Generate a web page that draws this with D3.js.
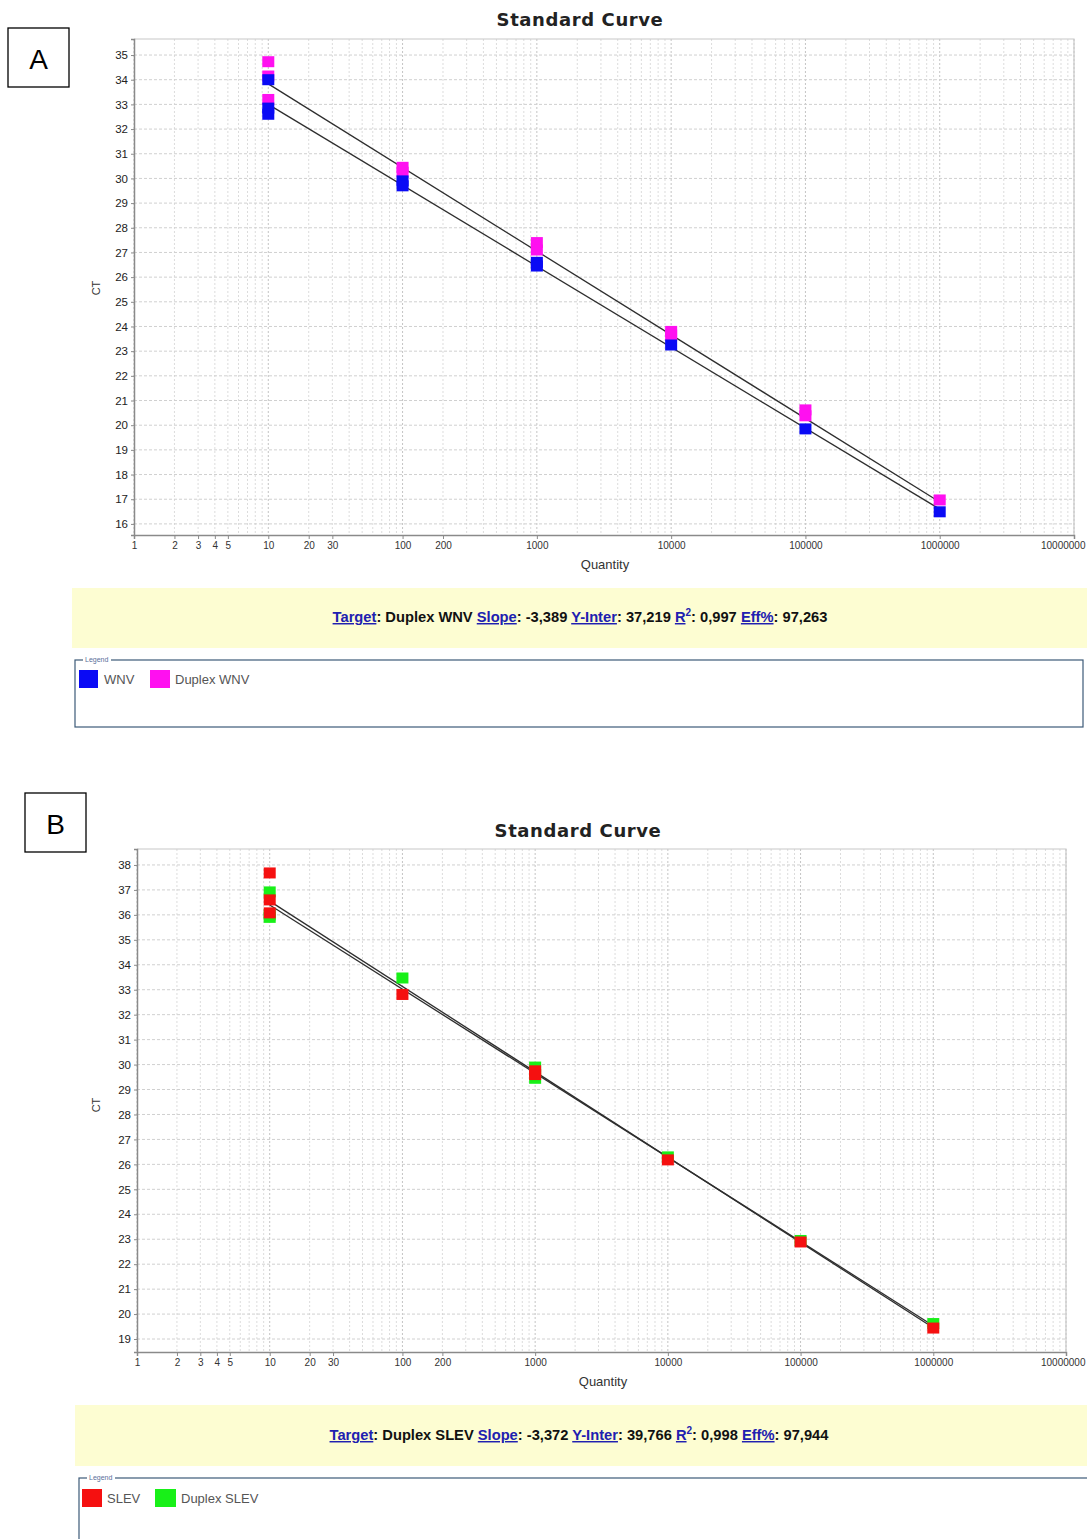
<!DOCTYPE html>
<html>
<head>
<meta charset="utf-8">
<script src="https://cdn.jsdelivr.net/npm/d3@7"></script>
<style>
  html, body { margin: 0; padding: 0; background: #fff; }
  svg { display: block; }
</style>
</head>
<body>
<svg id="chart" width="1087" height="1539"></svg>
<script>
// ---------------- DATA ----------------
const xTickValues = [1, 2, 3, 4, 5, 10, 20, 30, 100, 200, 1000, 10000, 100000, 1000000, 10000000];
const yTicksA = [16, 17, 18, 19, 20, 21, 22, 23, 24, 25, 26, 27, 28, 29, 30, 31, 32, 33, 34, 35];
const yTicksB = [19, 20, 21, 22, 23, 24, 25, 26, 27, 28, 29, 30, 31, 32, 33, 34, 35, 36, 37, 38];

// Panel A – WNV (blue) and Duplex WNV (magenta)
const wnvQty = [10, 10, 10, 100, 100, 1000, 1000, 10000, 100000, 1000000];
const wnvCt = [34.0, 32.85, 32.6, 29.9, 29.7, 26.6, 26.45, 23.25, 19.85, 16.49];
const duplexWnvQty = [10, 10, 10, 100, 100, 1000, 1000, 10000, 10000, 100000, 100000, 1000000];
const duplexWnvCt = [34.73, 34.15, 33.2, 30.45, 30.25, 27.4, 27.1, 23.8, 23.65, 20.62, 20.38, 16.97];

// Panel B – SLEV (red) and Duplex SLEV (green)
const slevQty = [10, 10, 10, 100, 1000, 1000, 10000, 100000, 1000000];
const slevCt = [37.68, 36.6, 36.08, 32.81, 29.75, 29.6, 26.18, 22.89, 19.44];
const duplexSlevQty = [10, 10, 10, 100, 1000, 1000, 10000, 100000, 1000000];
const duplexSlevCt = [36.92, 36.0, 35.9, 33.47, 29.9, 29.45, 26.3, 22.95, 19.62];

// Standard-curve fits: Ct = slope * log10(Q) + intercept, drawn from 10 to 1e6
const fitRange = [10, 1000000];
const fitSlopesA = [-3.28, -3.389];      // WNV, Duplex WNV
const fitInterceptsA = [36.28, 37.219];
const fitSlopesB = [-3.42, -3.372];      // SLEV, Duplex SLEV
const fitInterceptsB = [39.97, 39.766];

// Info-bar texts
const infoA = { target: "Duplex WNV", slope: "-3,389", yInter: "37,219", r2: "0,997", eff: "97,263" };
const infoB = { target: "Duplex SLEV", slope: "-3,372", yInter: "39,766", r2: "0,998", eff: "97,944" };

const legendNamesA = ["WNV", "Duplex WNV"];
const legendNamesB = ["SLEV", "Duplex SLEV"];

// ---------------- DRAWING ----------------
const svg = d3.select("#chart");

function drawPanel(p) {
  const g = svg.append("g");
  const x = d3.scaleLog().domain([1, 1e7]).range([p.left, p.right]);
  const y = d3.scaleLinear().domain(p.yDomain).range([p.bottom, p.top]);

  // letter box
  g.append("rect").attr("x", p.letterBox[0]).attr("y", p.letterBox[1])
    .attr("width", 61).attr("height", 59)
    .attr("fill", "#fff").attr("stroke", "#000").attr("stroke-width", 1.3);
  g.append("text").attr("x", p.letterBox[0] + 30.5).attr("y", p.letterBox[1] + 41)
    .attr("text-anchor", "middle").attr("font-family", "Liberation Sans, Arial, sans-serif")
    .attr("font-size", 28).attr("fill", "#000").text(p.letter);

  // title
  g.append("text").attr("x", p.titleX).attr("y", p.titleY)
    .attr("text-anchor", "middle").attr("font-family", "DejaVu Sans, Verdana, sans-serif")
    .attr("font-weight", "bold").attr("font-size", 18).attr("letter-spacing", 0.6).attr("fill", "#222")
    .text("Standard Curve");

  // grid: vertical minor lines (1..9 of each decade)
  const vGrid = [];
  for (let d = 0; d < 7; d++) for (let m = 1; m <= 9; m++) vGrid.push(m * Math.pow(10, d));
  vGrid.push(1e7);
  g.append("g").selectAll("line").data(vGrid).join("line")
    .attr("x1", d => x(d)).attr("x2", d => x(d))
    .attr("y1", p.top).attr("y2", p.bottom)
    .attr("stroke", d => (Math.log10(d) % 1 === 0) ? "#c4c4c4" : "#dcdcdc")
    .attr("stroke-width", 1).attr("stroke-dasharray", "2,2");
  // grid: horizontal lines
  g.append("g").selectAll("line").data(p.yTicks).join("line")
    .attr("x1", p.left).attr("x2", p.right)
    .attr("y1", d => y(d)).attr("y2", d => y(d))
    .attr("stroke", "#d0d0d0").attr("stroke-width", 1).attr("stroke-dasharray", "3,2");

  // frame (top / right light)
  g.append("path")
    .attr("d", `M${p.left},${p.top}H${p.right}V${p.bottom}`)
    .attr("fill", "none").attr("stroke", "#c8c8c8").attr("stroke-width", 1.2);

  // axes
  const yAxis = d3.axisLeft(y).tickValues(p.yTicks).tickSize(3).tickPadding(3).tickFormat(d3.format("d"));
  const ya = g.append("g").attr("transform", `translate(${p.left},0)`).call(yAxis);
  ya.select(".domain").attr("stroke", "#8a8a8a").attr("stroke-width", 1.5);
  ya.selectAll(".tick line").attr("stroke", "#8a8a8a");
  ya.selectAll(".tick text").attr("font-family", "Liberation Sans, Arial, sans-serif")
    .attr("font-size", 11.5).attr("fill", "#222");

  const xAxis = d3.axisBottom(x).tickValues(xTickValues).tickSize(4).tickPadding(3).tickFormat(d3.format("d"));
  const xa = g.append("g").attr("transform", `translate(0,${p.bottom})`).call(xAxis);
  xa.select(".domain").attr("stroke", "#8a8a8a").attr("stroke-width", 1.5);
  xa.selectAll(".tick line").attr("stroke", "#8a8a8a");
  xa.selectAll(".tick text").attr("font-family", "Liberation Sans Narrow, Liberation Sans, Arial, sans-serif")
    .attr("font-size", 10).attr("fill", "#333");
  // keep the last label inside the page
  xa.selectAll(".tick").filter(d => d === 1e7).select("text")
    .attr("text-anchor", "end").attr("x", 1085 - p.right);

  // axis titles
  g.append("text").attr("transform", `translate(${p.ctX},${p.ctY}) rotate(-90)`)
    .attr("text-anchor", "middle").attr("font-family", "Liberation Sans, Arial, sans-serif")
    .attr("font-size", 11).attr("fill", "#333").text("CT");
  g.append("text").attr("x", p.qX).attr("y", p.qY)
    .attr("text-anchor", "middle").attr("font-family", "Liberation Sans, Arial, sans-serif")
    .attr("font-size", 13).attr("fill", "#333").text("Quantity");

  // fit lines
  const line = d3.line().x(d => x(d[0])).y(d => y(d[1]));
  p.slopes.forEach((s, i) => {
    const pts = fitRange.map(q => [q, s * Math.log10(q) + p.intercepts[i]]);
    g.append("path").attr("d", line(pts)).attr("fill", "none")
      .attr("stroke", "#2e2e2e").attr("stroke-width", 1.3);
  });

  // markers (duplex first, single on top)
  const mw = 12, mh = 11;
  p.series.forEach(s => {
    g.append("g").selectAll("rect").data(s.qty.map((q, i) => [q, s.ct[i]])).join("rect")
      .attr("x", d => x(d[0]) - mw / 2).attr("y", d => y(d[1]) - mh / 2)
      .attr("width", mw).attr("height", mh).attr("fill", s.color);
  });

  // info bar
  g.append("rect").attr("x", p.info[0]).attr("y", p.info[1])
    .attr("width", p.info[2]).attr("height", p.info[3]).attr("fill", "#fdfdd2");
  const t = g.append("text").attr("x", p.infoTextX).attr("y", p.infoTextY)
    .attr("text-anchor", "middle")
    .attr("font-family", "Liberation Sans Narrow, Liberation Sans, Arial, sans-serif")
    .attr("font-size", 14.7).attr("font-weight", "bold").attr("fill", "#111");
  const link = (txt) => t.append("tspan").attr("fill", "#2020b0").attr("text-decoration", "underline").text(txt);
  const plain = (txt) => t.append("tspan").text(txt);
  link("Target"); plain(": " + p.infoData.target + " ");
  link("Slope"); plain(": " + p.infoData.slope + " ");
  link("Y-Inter"); plain(": " + p.infoData.yInter + " ");
  link("R");
  t.append("tspan").attr("fill", "#2020b0").attr("font-size", 10).attr("dy", -6).text("2");
  t.append("tspan").attr("dy", 6).text(": " + p.infoData.r2 + " ");
  link("Eff%"); plain(": " + p.infoData.eff);

  // legend
  const L = p.legend;
  g.append("rect").attr("x", L.box[0]).attr("y", L.box[1]).attr("width", L.box[2]).attr("height", L.box[3])
    .attr("fill", "none").attr("stroke", "#3c5a78").attr("stroke-width", 1.2);
  g.append("rect").attr("x", L.box[0] + 8).attr("y", L.box[1] - 4).attr("width", 28).attr("height", 8).attr("fill", "#fff");
  g.append("text").attr("x", L.box[0] + 10).attr("y", L.box[1] + 2)
    .attr("font-family", "Liberation Sans, Arial, sans-serif").attr("font-size", 7).attr("fill", "#5a6e9a").text("Legend");
  L.items.forEach((it, i) => {
    g.append("rect").attr("x", it.sx).attr("y", L.itemY).attr("width", it.sw).attr("height", 18).attr("fill", p.legendColors[i]);
    g.append("text").attr("x", it.tx).attr("y", L.itemY + 14)
      .attr("font-family", "Liberation Sans, Arial, sans-serif").attr("font-size", 13)
      .attr("fill", "#555").text(p.legendNames[i]);
  });
}

drawPanel({
  letter: "A", letterBox: [8, 28],
  titleX: 580, titleY: 26,
  left: 134, right: 1074, top: 39, bottom: 535,
  yDomain: [15.55, 35.65], yTicks: yTicksA,
  ctX: 100, ctY: 288, qX: 605, qY: 569,
  slopes: fitSlopesA, intercepts: fitInterceptsA,
  series: [
    { qty: duplexWnvQty, ct: duplexWnvCt, color: "#ff10f0" },
    { qty: wnvQty, ct: wnvCt, color: "#0a0af5" }
  ],
  info: [72, 588, 1015, 60], infoTextX: 580, infoTextY: 622, infoData: infoA,
  legend: { box: [75, 660, 1008, 67], itemY: 670,
    items: [{ sx: 79, sw: 19, tx: 104 }, { sx: 150, sw: 20, tx: 175 }] },
  legendColors: ["#0a0af5", "#ff10f0"], legendNames: legendNamesA
});

drawPanel({
  letter: "B", letterBox: [25, 793],
  titleX: 578, titleY: 837,
  left: 137, right: 1066, top: 849, bottom: 1352,
  yDomain: [18.48, 38.64], yTicks: yTicksB,
  ctX: 100, ctY: 1105, qX: 603, qY: 1386,
  slopes: fitSlopesB, intercepts: fitInterceptsB,
  series: [
    { qty: duplexSlevQty, ct: duplexSlevCt, color: "#18f018" },
    { qty: slevQty, ct: slevCt, color: "#f51010" }
  ],
  info: [75, 1405, 1012, 61], infoTextX: 579, infoTextY: 1440, infoData: infoB,
  legend: { box: [79, 1478, 1020, 70], itemY: 1489,
    items: [{ sx: 82, sw: 20, tx: 107 }, { sx: 155, sw: 21, tx: 181 }] },
  legendColors: ["#f51010", "#18f018"], legendNames: legendNamesB
});
</script>
</body>
</html>
